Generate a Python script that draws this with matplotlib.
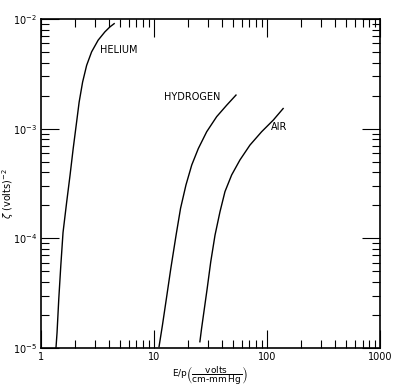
#Grafica del coeficiente zeta contra E/p para tres gases
#
#Ejes logaritmicos en x y en y, con marcas hacia adentro en los cuatro lados
#y el nombre de cada gas escrito junto a su curva.

import matplotlib
matplotlib.use("Agg")
import matplotlib.pyplot as plt

#datos: E/p (volts / cm-mmHg) y zeta (volts^-2)
helio_x = [1.36, 1.39, 1.44, 1.50, 1.57, 1.69, 1.81, 1.93, 2.07, 2.18,
           2.34, 2.54, 2.81, 3.21, 3.68, 4.08, 4.45]
helio_y = [1.0e-5, 1.38e-5, 2.8e-5, 5.6e-5, 1.13e-4, 2.13e-4, 3.74e-4,
           6.56e-4, 1.15e-3, 1.75e-3, 2.67e-3, 3.79e-3, 5.03e-3, 6.43e-3,
           7.65e-3, 8.5e-3, 9.1e-3]

hidrogeno_x = [11.1, 11.9, 12.9, 14.1, 15.7, 17.2, 19.2, 21.6, 24.7, 29.3,
               35.9, 44.0, 53.2]
hidrogeno_y = [1.03e-5, 1.62e-5, 2.84e-5, 5.3e-5, 1.07e-4, 1.88e-4, 3.07e-4,
               4.67e-4, 6.6e-4, 9.4e-4, 1.29e-3, 1.64e-3, 2.03e-3]

aire_x = [25.5, 26.4, 27.7, 29.6, 31.8, 34.7, 38.4, 42.5, 48.7, 57.7, 70.7,
          89.7, 113.7, 139.0]
aire_y = [1.14e-5, 1.51e-5, 2.15e-5, 3.5e-5, 6.1e-5, 1.07e-4, 1.75e-4,
          2.67e-4, 3.79e-4, 5.2e-4, 7.1e-4, 9.4e-4, 1.2e-3, 1.53e-3]

nombres = ["HELIUM", "HYDROGEN", "AIR"]
pos_nombres = [(3.35, 5.2e-3), (12.3, 1.95e-3), (109, 1.03e-3)]

etiquetas_x = ["1", "10", "100", "1000"]

fig = plt.figure(figsize=(3.93, 3.91), dpi=100)
ax = fig.add_axes([0.104, 0.110, 0.863, 0.841])

#las tres curvas en negro, trazo fino
for xs, ys in [(helio_x, helio_y), (hidrogeno_x, hidrogeno_y), (aire_x, aire_y)]:
    ax.plot(xs, ys, color="black", linewidth=1.0)

for nombre, (px, py) in zip(nombres, pos_nombres):
    ax.text(px, py, nombre, fontsize=7, color="black", ha="left", va="center")

ax.set_xscale("log")
ax.set_yscale("log")
ax.set_xlim(1, 1000)
ax.set_ylim(1e-5, 1e-2)
ax.set_xticks([1, 10, 100, 1000], etiquetas_x)

#marcas hacia adentro en los cuatro lados
ax.tick_params(which="both", direction="in", top=True, right=True,
               labelsize=7, width=0.8, pad=3)
ax.tick_params(which="major", length=13)
ax.tick_params(which="minor", length=6)
for lado in ax.spines.values():
    lado.set_linewidth(1.2)

#titulos de los ejes, colocados a mano para que no se corten
ax.set_ylabel(r"$\zeta$ (volts)$^{-2}$", fontsize=7)
ax.yaxis.set_label_coords(-0.074, 0.47)
ax.set_xlabel(r"E/p$\left(\dfrac{\mathrm{volts}}{\mathrm{cm\text{-}mm\,Hg}}\right)$",
              fontsize=6.5)
ax.xaxis.set_label_coords(0.5, -0.048)

plt.savefig("out.png", dpi=100)
plt.close()
